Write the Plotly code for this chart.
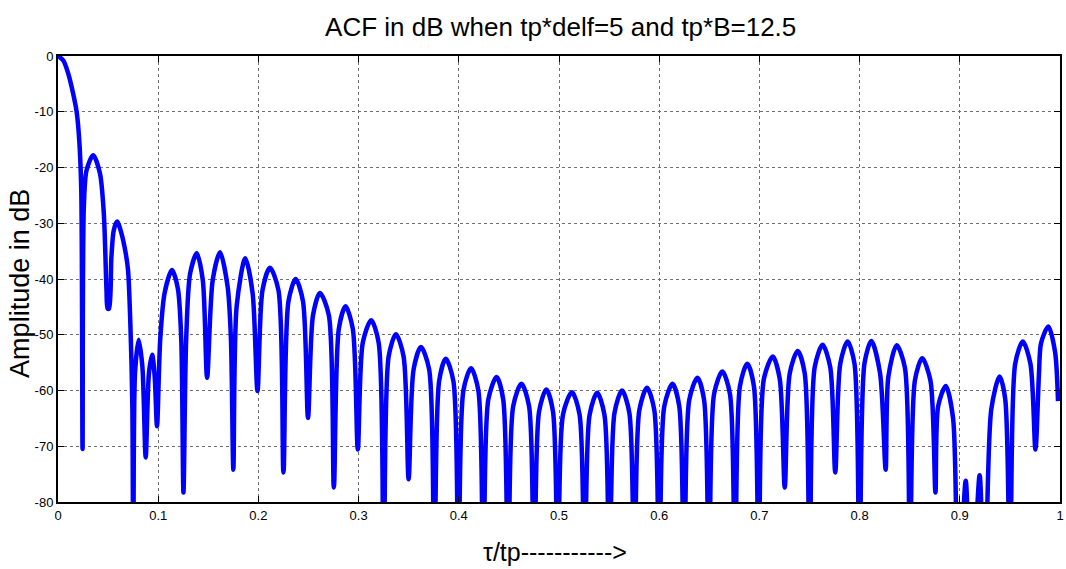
import plotly.graph_objects as go

# Curve vertices (tau/tp, dB)
tau = [
    0.0000, 0.0053, 0.0103, 0.0152, 0.0186, 0.0212, 0.0232, 0.0245,
    0.0258, 0.0285, 0.0351, 0.0418, 0.0457, 0.0484, 0.0495, 0.0510,
    0.0533, 0.0557, 0.0590, 0.0633, 0.0676, 0.0699, 0.0722, 0.0742, 0.0752,
    0.0769, 0.0805, 0.0842, 0.0875,
    0.0908, 0.0940, 0.0965, 0.0988,
    0.1020, 0.1064, 0.1137, 0.1196, 0.1230, 0.1252,
    0.1279, 0.1319, 0.1385, 0.1445, 0.1488,
    0.1544, 0.1617, 0.1693, 0.1726, 0.1750,
    0.1783, 0.1869, 0.1942, 0.1991,
    0.2041, 0.2115, 0.2200, 0.2250,
    0.2300, 0.2372, 0.2445, 0.2495,
    0.2545, 0.2614, 0.2703, 0.2753,
    0.2803, 0.2870, 0.2942, 0.2992,
    0.3042, 0.3125, 0.3200, 0.3250,
    0.3300, 0.3373, 0.3449, 0.3499,
    0.3549, 0.3622, 0.3704, 0.3754,
    0.3804, 0.3870, 0.3946, 0.3996,
    0.4046, 0.4122, 0.4195, 0.4245,
    0.4295, 0.4377, 0.4443, 0.4493,
    0.4543, 0.4625, 0.4701, 0.4751,
    0.4801, 0.4874, 0.4940, 0.4990,
    0.5040, 0.5129, 0.5205, 0.5255,
    0.5305, 0.5381, 0.5454, 0.5504,
    0.5554, 0.5629, 0.5702, 0.5752,
    0.5802, 0.5878, 0.5951, 0.6001,
    0.6051, 0.6133, 0.6200, 0.6250,
    0.6300, 0.6382, 0.6448, 0.6498,
    0.6548, 0.6630, 0.6706, 0.6756,
    0.6806, 0.6879, 0.6945, 0.6995,
    0.7045, 0.7134, 0.7203, 0.7253,
    0.7303, 0.7382, 0.7452, 0.7502,
    0.7552, 0.7631, 0.7707, 0.7757,
    0.7807, 0.7880, 0.7949, 0.7999,
    0.8049, 0.8118, 0.8204, 0.8260,
    0.8287, 0.8370, 0.8452, 0.8502,
    0.8552, 0.8625, 0.8707, 0.8757,
    0.8784, 0.8860, 0.8933, 0.8983,
    0.9059, 0.9115,
    0.9198, 0.9248,
    0.9314, 0.9397, 0.9453, 0.9503,
    0.9553, 0.9629, 0.9705, 0.9755,
    0.9790, 0.9811, 0.9884, 0.9950, 0.9980,
]
acf_db = [
    0.0, -0.8, -3.2, -6.8, -10.0, -15.1, -24.0, -70.5,
    -27.0, -20.5, -17.8, -21.0, -28.2, -42.0, -45.3, -45.3,
    -36.0, -31.2, -29.7, -31.8, -35.4, -38.4, -47.9, -62.8, -100.0,
    -56.8, -50.9, -55.7, -72.0,
    -56.8, -53.6, -57.5, -66.4,
    -50.9, -42.5, -38.4, -41.7, -50.9, -78.3,
    -50.9, -39.0, -35.4, -40.2, -57.7,
    -40.2, -35.2, -41.4, -50.9, -74.2,
    -44.9, -36.3, -42.5, -60.1,
    -42.0, -38.0, -42.0, -74.7,
    -44.0, -40.0, -44.0, -64.9,
    -46.5, -42.5, -46.5, -77.4,
    -48.9, -44.9, -48.9, -70.6,
    -51.4, -47.4, -51.4, -100.0,
    -53.9, -49.9, -53.9, -75.9,
    -56.2, -52.2, -56.2, -100.0,
    -58.3, -54.3, -58.3, -100.0,
    -60.0, -56.0, -60.0, -100.0,
    -61.6, -57.6, -61.6, -100.0,
    -62.8, -58.8, -62.8, -100.0,
    -63.8, -59.8, -63.8, -100.0,
    -64.3, -60.3, -64.3, -100.0,
    -64.4, -60.4, -64.4, -100.0,
    -64.0, -60.0, -64.0, -100.0,
    -63.5, -59.5, -63.5, -100.0,
    -62.8, -58.8, -62.8, -100.0,
    -61.7, -57.7, -61.7, -100.0,
    -60.6, -56.6, -60.6, -100.0,
    -59.2, -55.2, -59.2, -100.0,
    -57.9, -53.9, -57.9, -77.4,
    -56.9, -52.9, -56.9, -100.0,
    -55.8, -51.8, -55.8, -74.7,
    -55.2, -51.2, -55.2, -100.0,
    -55.1, -51.1, -56.9, -74.2,
    -57.5, -51.9, -55.9, -100.0,
    -58.2, -54.2, -58.2, -78.3,
    -62.8, -59.2, -65.0, -100.0,
    -76.2, -100.0,
    -75.2, -100.0,
    -63.4, -57.5, -61.5, -100.0,
    -55.2, -51.2, -55.2, -70.6,
    -57.0, -51.5, -48.5, -53.0, -61.9,
]

x_ticks = [0, 0.1, 0.2, 0.3, 0.4, 0.5, 0.6, 0.7, 0.8, 0.9, 1]
x_tick_text = ["0", "0.1", "0.2", "0.3", "0.4", "0.5", "0.6", "0.7", "0.8", "0.9", "1"]
y_ticks = [0, -10, -20, -30, -40, -50, -60, -70, -80]
y_tick_text = ["0", "-10", "-20", "-30", "-40", "-50", "-60", "-70", "-80"]

narrow = "Liberation Sans Narrow, Arial Narrow, Liberation Sans, Arial, sans-serif"
regular = "Liberation Sans, Arial, sans-serif"

fig = go.Figure()
fig.add_trace(go.Scatter(
    x=tau, y=acf_db, mode="lines",
    line=dict(color="#0000ff", width=4.5, shape="spline", smoothing=0.8),
    showlegend=False, hoverinfo="skip",
))

axis_common = dict(
    showline=True, linecolor="#000000", linewidth=2, mirror="ticks",
    ticks="inside", ticklen=6, tickwidth=1, tickcolor="#000000",
    showgrid=True, gridcolor="#6f6f6f", gridwidth=1, griddash="dot",
    zeroline=False,
    tickfont=dict(family=narrow, size=13, color="#000000"),
)

fig.update_layout(
    width=1066, height=569,
    margin=dict(l=58, r=2, t=56, b=67),
    paper_bgcolor="#ffffff", plot_bgcolor="#ffffff",
    title=dict(text="ACF in dB when tp*delf=5 and tp*B=12.5",
               x=0.526, xanchor="center", y=0.953, yanchor="middle",
               font=dict(family=narrow, size=26, color="#000000")),
    xaxis=dict(range=[0, 1], tickvals=x_ticks, ticktext=x_tick_text, **axis_common),
    yaxis=dict(range=[-80, 0], tickvals=y_ticks, ticktext=y_tick_text, **axis_common),
    annotations=[
        dict(text="τ/tp----------->", xref="paper", yref="paper",
             x=0.496, y=-0.111, xanchor="center", yanchor="middle", showarrow=False,
             font=dict(family=narrow, size=25, color="#000000")),
        dict(text="Amplitude in dB", xref="paper", yref="paper",
             x=-0.0375, y=0.49, xanchor="center", yanchor="middle", showarrow=False,
             textangle=-90, font=dict(family=regular, size=27, color="#000000")),
    ],
)

fig.write_html("out.html")
